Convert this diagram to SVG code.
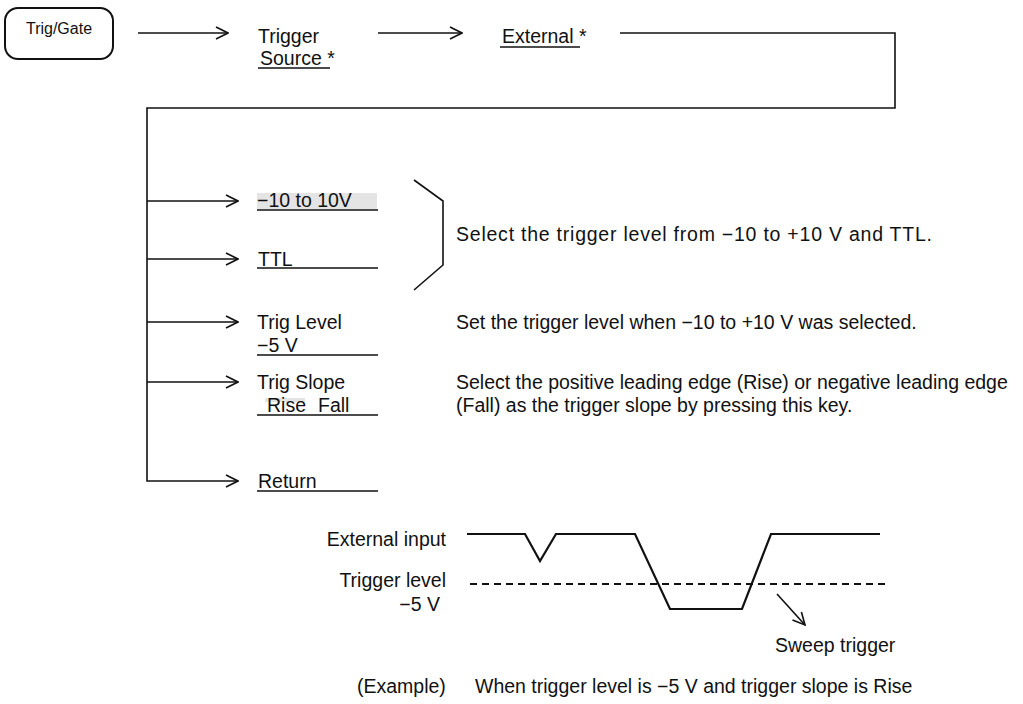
<svg xmlns="http://www.w3.org/2000/svg" width="1023" height="704" viewBox="0 0 1023 704">
<style>
text{font-family:"Liberation Sans",Arial,sans-serif;font-size:19.5px;fill:#111}
.box{fill:#fff;stroke:#111;stroke-width:2}
.ln{fill:none;stroke:#111;stroke-width:1.6}
.ul{fill:none;stroke:#111;stroke-width:1.4}
.wave{fill:none;stroke:#111;stroke-width:2.2;stroke-linejoin:miter}
.dash{fill:none;stroke:#111;stroke-width:2.2;stroke-dasharray:7 5}
.r{text-anchor:end}
</style>
<defs>
<marker id="oa" viewBox="0 0 14 14" refX="13" refY="7" markerWidth="14" markerHeight="14" markerUnits="userSpaceOnUse" orient="auto">
<path d="M1,1 L13,7 L1,13" fill="none" stroke="#111" stroke-width="1.6"/>
</marker>
</defs>
<rect width="1023" height="704" fill="#fff"/>

<g id="connectors">
<line class="ln" x1="138" y1="33" x2="228" y2="33" marker-end="url(#oa)"/>
<line class="ln" x1="378" y1="33" x2="462" y2="33" marker-end="url(#oa)"/>
<polyline class="ln" points="620,33 895,33 895,108 147,108 147,481 238,481" marker-end="url(#oa)"/>
<line class="ln" x1="147" y1="201" x2="238" y2="201" marker-end="url(#oa)"/>
<line class="ln" x1="147" y1="259" x2="238" y2="259" marker-end="url(#oa)"/>
<line class="ln" x1="147" y1="322" x2="238" y2="322" marker-end="url(#oa)"/>
<line class="ln" x1="147" y1="382" x2="238" y2="382" marker-end="url(#oa)"/>
</g>

<g id="trig-gate">
<rect class="box" x="5" y="8" width="108" height="51" rx="13"/>
<text x="59" y="34" text-anchor="middle" style="font-size:16px">Trig/Gate</text>
</g>

<g id="trigger-source">
<text x="258" y="43">Trigger</text>
<text x="260" y="65">Source *</text>
<line class="ul" x1="258" y1="68" x2="330" y2="68"/>
</g>

<g id="external">
<text x="502" y="43">External *</text>
<line class="ul" x1="500" y1="47" x2="580" y2="47"/>
</g>

<g id="range">
<rect x="257" y="193" width="120" height="16" fill="#e4e4e4"/>
<text x="257" y="207">−10 to 10V</text>
<line class="ul" x1="257" y1="210" x2="378" y2="210"/>
</g>

<g id="ttl">
<text x="258" y="266">TTL</text>
<line class="ul" x1="257" y1="268" x2="378" y2="268"/>
</g>

<g id="bracket">
<polyline class="ln" points="414,180 443,201 443,265 414,290"/>
<text x="456" y="241" textLength="476" lengthAdjust="spacing">Select the trigger level from −10 to +10 V and TTL.</text>
</g>

<g id="trig-level">
<text x="257" y="329">Trig Level</text>
<text x="257" y="352">−5 V</text>
<line class="ul" x1="257" y1="355" x2="378" y2="355"/>
<text x="456" y="329">Set the trigger level when −10 to +10 V was selected.</text>
</g>

<g id="trig-slope">
<text x="257" y="389">Trig Slope</text>
<rect x="265" y="398" width="40" height="4" fill="#e4e4e4"/>
<text x="267" y="412">Rise</text>
<text x="318" y="412">Fall</text>
<line class="ul" x1="257" y1="415" x2="378" y2="415"/>
<text x="456" y="389">Select the positive leading edge (Rise) or negative leading edge</text>
<text x="456" y="412">(Fall) as the trigger slope by pressing this key.</text>
</g>

<g id="return">
<text x="258" y="488">Return</text>
<line class="ul" x1="257" y1="491" x2="378" y2="491"/>
</g>

<g id="waveform">
<text class="r" x="446" y="546">External input</text>
<text class="r" x="446" y="587">Trigger level</text>
<text class="r" x="440" y="611">−5 V</text>
<polyline class="wave" points="467,534 525,534 540,561 556,534 635,534 670,609 742,609 771,534 880,534"/>
<line class="dash" x1="470" y1="584" x2="886" y2="584"/>
<line class="ln" x1="777" y1="594" x2="805" y2="625" marker-end="url(#oa)"/>
<text x="775" y="652">Sweep trigger</text>
<text x="357" y="693">(Example)</text>
<text x="475" y="693">When trigger level is −5 V and trigger slope is Rise</text>
</g>
</svg>
